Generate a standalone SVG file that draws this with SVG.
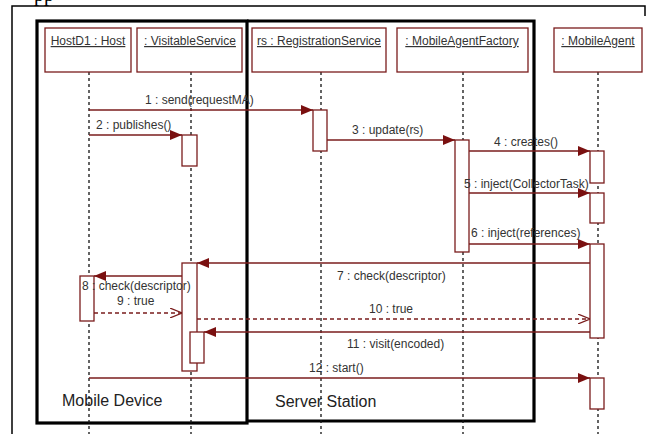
<svg xmlns="http://www.w3.org/2000/svg" width="646" height="434" viewBox="0 0 646 434">
  <style>
    .frame { fill: none; stroke: #000; stroke-width: 1.5; }
    .zone { fill: none; stroke: #000; stroke-width: 3.2; }
    .head { fill: #fff; stroke: #7a1c1c; stroke-width: 1.3; }
    .act { fill: #fff; stroke: #7a1c1c; stroke-width: 1.3; }
    .life { stroke: #111; stroke-width: 1.3; stroke-dasharray: 3 3; }
    .msg { stroke: #7a1c1c; stroke-width: 1.3; fill: none; }
    .ret { stroke: #7a1c1c; stroke-width: 1.3; fill: none; stroke-dasharray: 4 3; }
    .name { font-family: "Liberation Sans", Arial, sans-serif; font-size: 12px; fill: #333; text-decoration: underline; text-anchor: middle; }
    .lbl { font-family: "Liberation Sans", Arial, sans-serif; font-size: 12px; fill: #333; }
    .zlbl { font-family: "Liberation Sans", Arial, sans-serif; font-size: 16px; fill: #222; }
  </style>
  <defs>
    <marker id="solid" markerWidth="12" markerHeight="10" refX="12" refY="5" orient="auto" markerUnits="userSpaceOnUse">
      <path d="M0,0 L12,5 L0,10 Z" fill="#7a1010"/>
    </marker>
    <marker id="open" markerWidth="12" markerHeight="10" refX="12" refY="5" orient="auto" markerUnits="userSpaceOnUse">
      <path d="M0,0 L12,5 L0,10" fill="none" stroke="#7a1c1c" stroke-width="1.2"/>
    </marker>
  </defs>

  <!-- page fragment and outer frame -->
  <text x="34" y="0.5" font-family="Liberation Serif, serif" font-size="20" fill="#000">pp</text>
  <path class="frame" d="M12,434 L12,6 L645,6 L645,16"/>

  <!-- deployment zones -->
  <g id="zone-mobile">
    <rect class="zone" x="37" y="21" width="210" height="402"/>
    <text class="zlbl" x="62" y="406">Mobile Device</text>
  </g>
  <g id="zone-server">
    <path class="zone" d="M247,21 L534,21 L534,421 L247,421"/>
    <text class="zlbl" x="275" y="407">Server Station</text>
  </g>

  <!-- lifelines -->
  <g id="lifelines">
    <line class="life" x1="89" y1="72" x2="89" y2="434"/>
    <line class="life" x1="191" y1="72" x2="191" y2="434"/>
    <line class="life" x1="321" y1="72" x2="321" y2="434"/>
    <line class="life" x1="463" y1="72" x2="463" y2="434"/>
    <line class="life" x1="598" y1="72" x2="598" y2="434"/>
  </g>

  <!-- participants -->
  <g id="host">
    <rect class="head" x="45" y="28" width="86" height="44"/>
    <text class="name" x="88" y="45">HostD1 : Host</text>
    <rect class="act" x="80" y="276" width="14" height="45"/>
  </g>
  <g id="visitable-service">
    <rect class="head" x="137" y="28" width="105" height="44"/>
    <text class="name" x="190" y="45">: VisitableService</text>
    <rect class="act" x="182" y="135" width="15" height="31"/>
    <rect class="act" x="182" y="263" width="15" height="108"/>
    <rect class="act" x="190" y="332" width="14" height="31"/>
  </g>
  <g id="registration-service">
    <rect class="head" x="252" y="28" width="134" height="44"/>
    <text class="name" x="319" y="45">rs : RegistrationService</text>
    <rect class="act" x="313" y="110" width="14" height="41"/>
  </g>
  <g id="agent-factory">
    <rect class="head" x="397" y="28" width="131" height="44"/>
    <text class="name" x="462" y="45">: MobileAgentFactory</text>
    <rect class="act" x="455" y="140" width="14" height="112"/>
  </g>
  <g id="mobile-agent">
    <rect class="head" x="554" y="28" width="88" height="44"/>
    <text class="name" x="598" y="45">: MobileAgent</text>
    <rect class="act" x="590" y="151" width="14" height="32"/>
    <rect class="act" x="590" y="193" width="14" height="30"/>
    <rect class="act" x="590" y="244" width="14" height="94"/>
    <rect class="act" x="590" y="378" width="14" height="31"/>
  </g>

  <!-- messages -->
  <g id="messages">
    <line class="msg" x1="89" y1="110" x2="313" y2="110" marker-end="url(#solid)"/>
    <text class="lbl" x="145" y="104">1 : send(requestMA)</text>

    <line class="msg" x1="89" y1="135" x2="182" y2="135" marker-end="url(#solid)"/>
    <text class="lbl" x="96" y="129">2 : publishes()</text>

    <line class="msg" x1="327" y1="140" x2="455" y2="140" marker-end="url(#solid)"/>
    <text class="lbl" x="352" y="134">3 : update(rs)</text>

    <line class="msg" x1="469" y1="151" x2="590" y2="151" marker-end="url(#solid)"/>
    <text class="lbl" x="494" y="146">4 : creates()</text>

    <line class="msg" x1="469" y1="193" x2="590" y2="193" marker-end="url(#solid)"/>
    <text class="lbl" x="464" y="188">5 : inject(CollectorTask)</text>

    <line class="msg" x1="469" y1="244" x2="590" y2="244" marker-end="url(#solid)"/>
    <text class="lbl" x="471" y="237">6 : inject(references)</text>

    <line class="msg" x1="590" y1="263" x2="197" y2="263" marker-end="url(#solid)"/>
    <text class="lbl" x="337" y="280">7 : check(descriptor)</text>

    <line class="msg" x1="182" y1="276" x2="94" y2="276" marker-end="url(#solid)"/>
    <text class="lbl" x="82" y="290">8 : check(descriptor)</text>

    <line class="ret" x1="94" y1="313" x2="182" y2="313" marker-end="url(#open)"/>
    <text class="lbl" x="117" y="305">9 : true</text>

    <line class="ret" x1="197" y1="319" x2="590" y2="319" marker-end="url(#open)"/>
    <text class="lbl" x="369" y="313">10 : true</text>

    <line class="msg" x1="590" y1="332" x2="204" y2="332" marker-end="url(#solid)"/>
    <text class="lbl" x="347" y="348">11 : visit(encoded)</text>

    <line class="msg" x1="89" y1="378" x2="590" y2="378" marker-end="url(#solid)"/>
    <text class="lbl" x="309" y="372">12 : start()</text>
  </g>
</svg>
